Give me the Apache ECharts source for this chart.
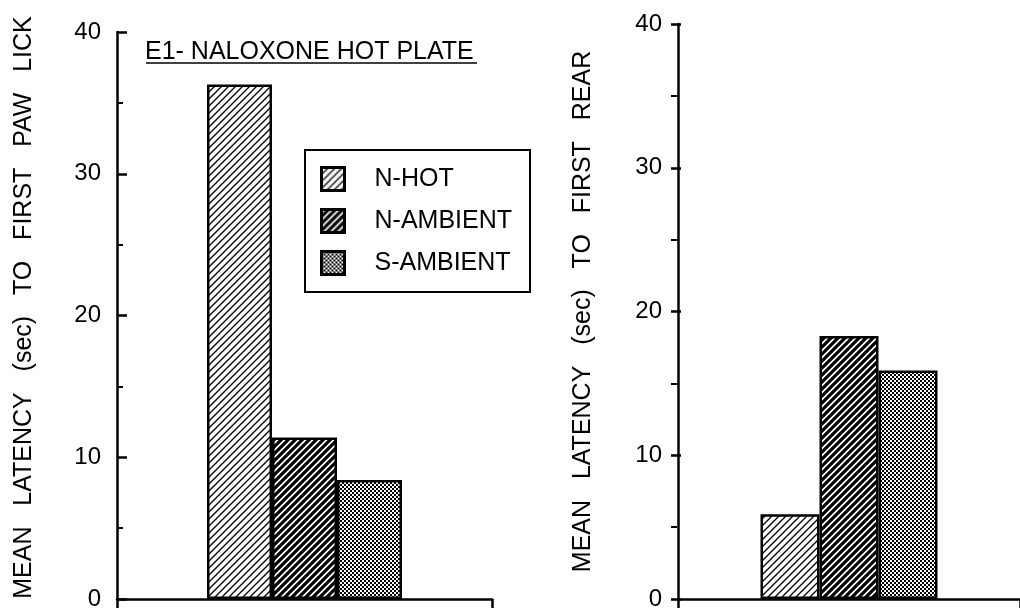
<!DOCTYPE html>
<html>
<head>
<meta charset="utf-8">
<script src="https://cdn.jsdelivr.net/npm/echarts@6/dist/echarts.min.js"></script>
<style>
html,body{margin:0;padding:0;background:#fff;}
#chart{width:1020px;height:611px;}
</style>
</head>
<body>
<div id="chart"></div>
<script>
// ---- data ----
const seriesNames = ['N-HOT', 'N-AMBIENT', 'S-AMBIENT'];
const pawLickCategories = ['Paw lick'];
const rearCategories = ['Rear'];
const pawLickValues = [36.3, 11.4, 8.4];   // mean latency (sec) to first paw lick
const rearValues = [5.9, 18.3, 15.9];      // mean latency (sec) to first rear
const yMin = 0, yMax = 40, yInterval = 10;
const titleText = 'E1- NALOXONE HOT PLATE';
const leftAxisName = 'MEAN   LATENCY   (sec)   TO   FIRST   PAW   LICK';
const rightAxisName = 'MEAN   LATENCY   (sec)   TO   FIRST   REAR';

// ---- fill patterns ----
function hatch(size, lw) {
  const c = document.createElement('canvas');
  c.width = size; c.height = size;
  const g = c.getContext('2d');
  g.fillStyle = '#fff'; g.fillRect(0, 0, size, size);
  g.strokeStyle = '#000'; g.lineWidth = lw; g.lineCap = 'square';
  g.beginPath();
  g.moveTo(0, size); g.lineTo(size, 0);
  g.moveTo(-size / 2, size / 2); g.lineTo(size / 2, -size / 2);
  g.moveTo(size / 2, size * 1.5); g.lineTo(size * 1.5, size / 2);
  g.stroke();
  return c;
}
function stipple() {
  const c = document.createElement('canvas');
  c.width = 4; c.height = 4;
  const g = c.getContext('2d');
  g.fillStyle = '#fff'; g.fillRect(0, 0, 4, 4);
  g.fillStyle = '#000';
  g.fillRect(0, 0, 2, 2);
  g.fillRect(2, 2, 2, 2);
  return c;
}
const fills = [
  { image: hatch(7, 1.3), repeat: 'repeat' },
  { image: hatch(7, 3.2), repeat: 'repeat' },
  { image: stipple(), repeat: 'repeat' }
];

const FONT = '"Liberation Sans", Arial, Helvetica, sans-serif';
const black = '#000';

// geometry of the two plot areas
const grids = [
  { left: 117, right: 528, top: 32, bottom: 9 },
  { left: 678, right: -7, top: 24, bottom: 6 }
];
const gridWidth = g => 1020 - g.left - g.right;

// axis carrying line, labels and title
function yAxisMain(gridIndex, name, nameGap, namePad) {
  return {
    gridIndex: gridIndex,
    type: 'value',
    min: yMin, max: yMax, interval: yInterval,
    name: name,
    nameLocation: 'middle',
    nameRotate: 90,
    nameGap: nameGap,
    nameTextStyle: { fontFamily: FONT, fontSize: 25, color: black, padding: namePad },
    axisLine: { show: true, lineStyle: { color: black, width: 2.5 } },
    axisTick: { show: false },
    minorTick: { show: false },
    splitLine: { show: false },
    axisLabel: { fontFamily: FONT, fontSize: 24, color: black, margin: 16 }
  };
}
// twin axis on the same line, ticks pointing into the plot
function yAxisTicks(gridIndex) {
  return {
    gridIndex: gridIndex,
    type: 'value',
    position: 'right',
    offset: -gridWidth(grids[gridIndex]),
    min: yMin, max: yMax, interval: yInterval,
    axisLine: { show: false },
    axisTick: { show: true, length: 10, lineStyle: { color: black, width: 2.5 } },
    minorTick: { show: true, splitNumber: 2, length: 6, lineStyle: { color: black, width: 2 } },
    splitLine: { show: false },
    axisLabel: { show: false }
  };
}
function xAxisDef(gridIndex, cats) {
  return {
    gridIndex: gridIndex,
    type: 'category',
    data: cats,
    axisLine: { show: true, lineStyle: { color: black, width: 2.5 } },
    axisTick: { show: true, length: 9, lineStyle: { color: black, width: 2.5 } },
    axisLabel: { show: false },
    splitLine: { show: false }
  };
}

const series = [];
seriesNames.forEach((n, i) => {
  series.push({
    name: n, type: 'bar', xAxisIndex: 0, yAxisIndex: 0,
    data: [pawLickValues[i]], barWidth: 65, barGap: '0%',
    itemStyle: { color: fills[i], borderColor: black, borderWidth: 2.5 },
    emphasis: { disabled: true }
  });
});
seriesNames.forEach((n, i) => {
  series.push({
    name: n, type: 'bar', xAxisIndex: 1, yAxisIndex: 1,
    data: [rearValues[i]], barWidth: 59, barGap: '0%',
    itemStyle: { color: fills[i], borderColor: black, borderWidth: 2.5 },
    emphasis: { disabled: true }
  });
});

const chart = echarts.init(document.getElementById('chart'), null, { renderer: 'canvas' });
chart.setOption({
  animation: false,
  backgroundColor: '#fff',
  title: {
    text: titleText,
    left: 145, top: 40,
    padding: 0,
    textStyle: { fontFamily: FONT, fontSize: 25, fontWeight: 'normal', color: black }
  },
  graphic: [
    { type: 'line', shape: { x1: 146, y1: 63, x2: 477, y2: 63 }, style: { stroke: black, lineWidth: 1.5 } }
  ],
  legend: {
    data: seriesNames,
    orient: 'vertical',
    left: 305, top: 150,
    padding: [16, 18, 16, 15],
    icon: 'rect',
    itemWidth: 23, itemHeight: 23,
    itemGap: 16,
    backgroundColor: '#fff',
    borderColor: black, borderWidth: 2,
    selectedMode: false,
    itemStyle: { borderColor: black, borderWidth: 3 },
    formatter: '{t|{name}}',
    textStyle: {
      fontFamily: FONT, fontSize: 25, color: black,
      rich: { t: { fontFamily: FONT, fontSize: 25, color: black, padding: [0, 0, 0, 25], lineHeight: 25 } }
    }
  },
  grid: grids,
  xAxis: [xAxisDef(0, pawLickCategories), xAxisDef(1, rearCategories)],
  yAxis: [
    yAxisMain(0, leftAxisName, 80, [0, 0, 0, 16]),
    yAxisMain(1, rightAxisName, 82, [0, 0, 0, 0]),
    yAxisTicks(0),
    yAxisTicks(1)
  ],
  series: series
});
</script>
</body>
</html>
